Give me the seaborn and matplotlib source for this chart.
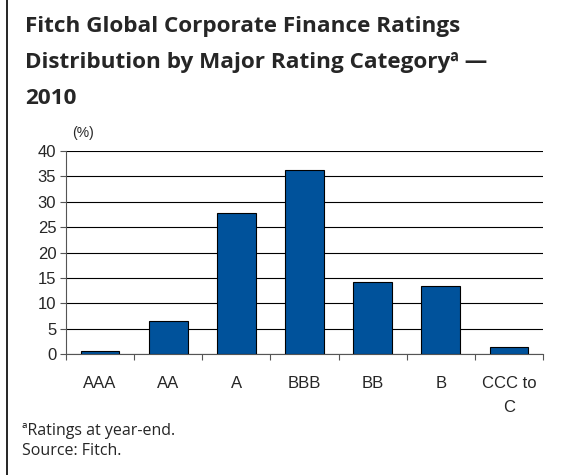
import matplotlib
matplotlib.use('Agg')
import matplotlib.pyplot as plt
import matplotlib.lines as mlines
import seaborn as sns
import pandas as pd
import numpy as np

# 数据
categories = ['AAA', 'AA', 'A', 'BBB', 'BB', 'B', 'CCC to\nC']
values = [0.6, 6.5, 27.8, 36.2, 14.1, 13.4, 1.3]
y_ticks = [0, 5, 10, 15, 20, 25, 30, 35, 40]

df = pd.DataFrame({'Rating': categories, 'Pct': values})

sns.set_style('white')
plt.rcParams['font.family'] = ['Liberation Sans', 'DejaVu Sans']

fig = plt.figure(figsize=(5.67, 4.75), dpi=100)
ax = fig.add_axes([0.1164, 0.2547, 0.8413, 0.4274])

sns.barplot(data=df, x='Rating', y='Pct', color='#00529B', width=0.57,
            edgecolor='black', linewidth=0.8, saturation=1, ax=ax, zorder=3)

ax.set_ylim(0, 40)
ax.set_xlim(-0.5, len(categories) - 0.5)
ax.set_yticks(y_ticks)
ax.yaxis.grid(True, color='black', linewidth=0.8, zorder=0)
ax.set_axisbelow(True)
ax.set_xlabel('')
ax.set_ylabel('')

for s in ['top', 'right']:
    ax.spines[s].set_visible(False)
for s in ['left', 'bottom']:
    ax.spines[s].set_color('#555555')
    ax.spines[s].set_linewidth(0.8)

ax.tick_params(axis='y', which='major', direction='out', length=4, width=0.8,
               color='#555555', labelsize=12, pad=3, left=True)
ax.tick_params(axis='x', which='major', length=0, labelsize=12, pad=16)
ax.set_xticks(np.arange(-0.5, len(categories)), minor=True)
ax.tick_params(axis='x', which='minor', direction='out', length=4, width=0.8,
               color='#555555', bottom=True)
for lab in ax.get_xticklabels():
    lab.set_linespacing(1.75)

# 标题
title_font = ['Open Sans', 'DejaVu Sans']
fig.text(25 / 567, 1 - 16 / 475,
         'Fitch Global Corporate Finance Ratings\nDistribution by Major Rating Categoryª —\n2010',
         ha='left', va='top', fontsize=16.2, fontweight='bold', family=title_font,
         linespacing=1.93)

fig.text(72 / 567, 1 - 133 / 475, '(%)', ha='left', va='center', fontsize=10)

# 脚注
fig.text(22 / 567, 1 - 431 / 475, 'ªRatings at year-end.', ha='left', va='center',
         fontsize=11.5, family=title_font)
fig.text(22 / 567, 1 - 451 / 475, 'Source: Fitch.', ha='left', va='center',
         fontsize=11.5, family=title_font)

# 左侧边框线
fig.add_artist(mlines.Line2D([7 / 567, 7 / 567], [0, 1], color='black', linewidth=1.2,
                             transform=fig.transFigure))

fig.savefig('out.png', dpi=100)
